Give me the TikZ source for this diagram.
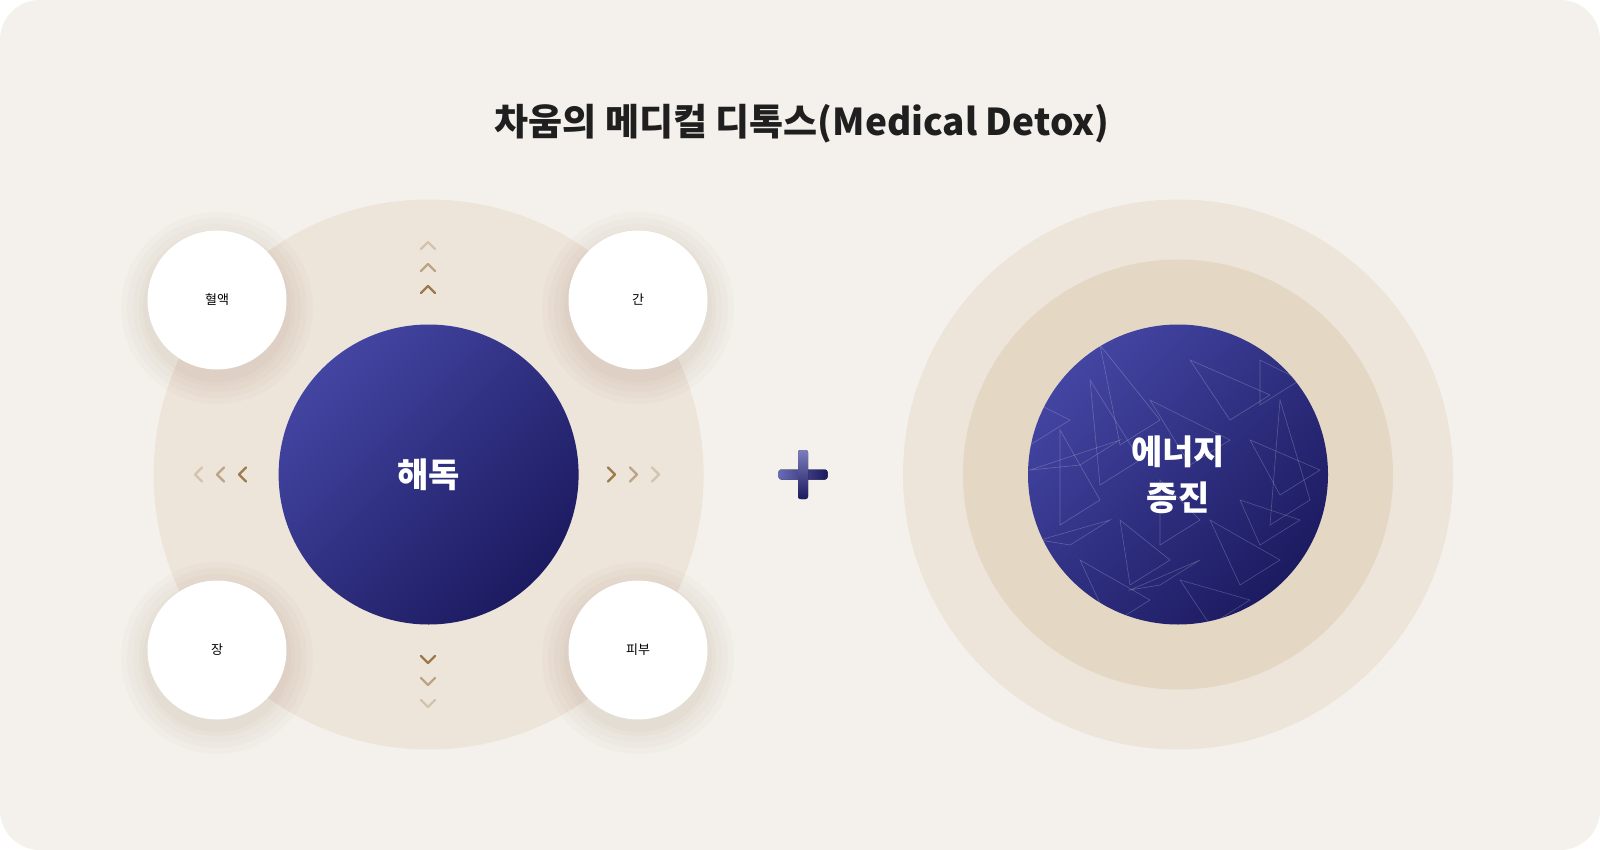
\documentclass[tikz,border=0pt]{standalone}
\usepackage{fontspec}
\setmainfont{Noto Sans CJK KR}
\definecolor{cardbg}{HTML}{F4F1EC}
\definecolor{ringA}{HTML}{EDE4DA}
\definecolor{ringB}{HTML}{E4D7C4}
\definecolor{navyA}{HTML}{4345A2}
\definecolor{navyB}{HTML}{1C1A60}
\definecolor{chev}{HTML}{9C7A4C}
\tikzset{
  organ/.style={circle,fill=white,minimum size=139pt,font=\fontsize{13}{13}\selectfont},
  core/.style={circle,minimum size=300pt,left color=navyA,right color=navyB,shading angle=45,
    text=white,font=\fontsize{34}{42}\selectfont\bfseries,align=center},
  chv/.style={draw=chev,line width=2.2pt,line cap=round,line join=round}
}
\begin{document}
\begin{tikzpicture}[x=1pt,y=-1pt]
\useasboundingbox (0,0) rectangle (1600,850);
\fill[white] (0,0) rectangle (1600,850);
\fill[cardbg,rounded corners=40pt] (0,0) rectangle (1600,850);
\node[font=\fontsize{37}{37}\selectfont\bfseries,text=black!88] (title) at (802,124) {차움의 메디컬 디톡스(Medical Detox)};
% left
\fill[ringA] (428.6,474.5) circle (275);
\node[core] (detox) at (428.6,474.5) {해독};
% soft shadows
\foreach \p in {(217,300),(638,300),(217,650),(638,650)}
  \foreach \r in {96,90,84,78,74}
    \fill[brown!60!black,opacity=.025] \p ++(0,8) circle (\r);
\node[organ] (blood) at (217,300) {혈액};
\node[organ] (liver) at (638,300) {간};
\node[organ] (gut) at (217,650) {장};
\node[organ] (skin) at (638,650) {피부};
% chevrons
\foreach \i/\o in {0/100,1/60,2/30}{
  \draw[chv,opacity=\o/100] (428,{289-22*\i}) ++(-7,4) -- ++(7,-7) -- ++(7,7);
  \draw[chv,opacity=\o/100] (428,{660+22*\i}) ++(-7,-4) -- ++(7,7) -- ++(7,-7);
  \draw[chv,opacity=\o/100] ({242-22*\i},474.5) ++(4,-7) -- ++(-7,7) -- ++(7,7);
  \draw[chv,opacity=\o/100] ({612+22*\i},474.5) ++(-4,-7) -- ++(7,7) -- ++(-7,7);
}
% plus
\fill[left color=navyA!80,right color=navyB,rounded corners=2.5pt] (778.5,469.5) rectangle (827.5,479.5);
\fill[top color=navyA!70,bottom color=navyB,rounded corners=2.5pt] (798,450) rectangle (808,499);
% right
\fill[ringA] (1178,474.5) circle (275);
\fill[ringB] (1178,474.5) circle (215);
\node[core] (energy) at (1178,474.5) {};
\begin{scope}
\clip (1178,474.5) circle (150);
\foreach \a/\b/\c/\d in {1100/345/1160/420,1030/470/1120/440,1040/540/1110/520,1190/360/1270/395,
  1250/440/1320/470,1210/520/1280/560,1130/590/1200/560,1090/380/1140/460,1280/400/1310/500,
  1180/580/1250/600,1060/430/1100/500,1150/400/1230/440,1030/400/1070/420,1120/520/1170/560,
  1240/500/1300/520,1160/480/1200/520,1080/560/1150/600,1260/360/1300/380}
  \draw[white,opacity=.22,line width=.6pt] (\a,\b) -- (\c,\d) -- ++(-40,25) -- cycle;
\end{scope}
\node[text=white,font=\fontsize{34}{46}\selectfont\bfseries,align=center] (energylbl) at (1178,474.5) {에너지\\증진};
\end{tikzpicture}
\end{document}
